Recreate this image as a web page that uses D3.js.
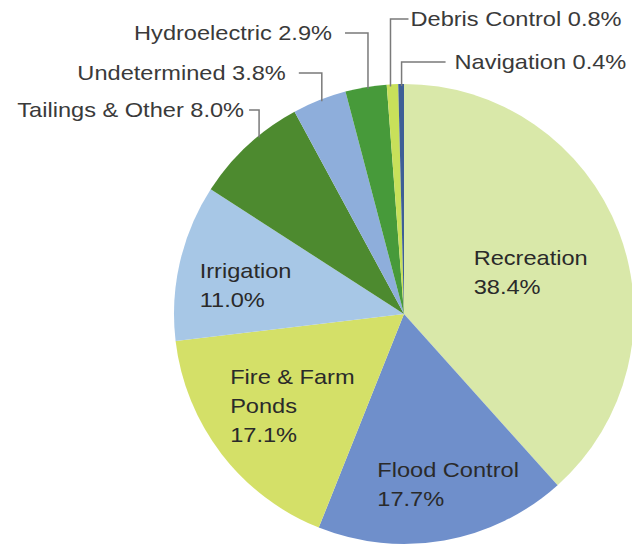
<!DOCTYPE html>
<html>
<head>
<meta charset="utf-8">
<script src="https://cdn.jsdelivr.net/npm/d3@7/dist/d3.min.js"></script>
<style>
  html, body { margin: 0; padding: 0; background: #ffffff; }
  svg { display: block; }
  text { font-family: "Liberation Sans", Arial, Helvetica, sans-serif; }
</style>
</head>
<body>
<svg id="chart" width="632" height="548"></svg>
<script>
// Reservoir purposes, share of total (%), clockwise from 12 o'clock
const categories = [
  "Recreation", "Flood Control", "Fire & Farm Ponds", "Irrigation",
  "Tailings & Other", "Undetermined", "Hydroelectric", "Debris Control", "Navigation"
];
const shares = [38.4, 17.7, 17.1, 11.0, 8.0, 3.8, 2.9, 0.8, 0.4];
const sliceColors = [
  "#d9e8a9", "#6f8fcb", "#d4e068", "#a7c7e6",
  "#4d8a2f", "#8eaedb", "#479a3a", "#c8e05a", "#3e5f96"
];

// Labels drawn inside the big slices (line breaks as shown)
const insideLabels = [
  { name: "Recreation",        lines: ["Recreation"],          along: 0.52, radius: 0.58 },
  { name: "Flood Control",     lines: ["Flood Control"],       along: 0.43, radius: 0.765 },
  { name: "Fire & Farm Ponds", lines: ["Fire & Farm", "Ponds"], along: 0.465, radius: 0.63 },
  { name: "Irrigation",        lines: ["Irrigation"],          along: 0.43, radius: 0.70 }
];

// Labels for the thin slices, joined to the pie by elbow leader lines
const outsideLabels = [
  { name: "Tailings & Other", side: "left",  along: 0.63,  armY: 110, arm: 10, gap: 5 },
  { name: "Undetermined",     side: "left",  along: 0.547, armY: 73,  arm: 23, gap: 13 },
  { name: "Hydroelectric",    side: "left",  along: 0.55,  armY: 33,  arm: 23, gap: 13 },
  { name: "Debris Control",   side: "right", along: 0.33,  armY: 19,  arm: 18, gap: 2 },
  { name: "Navigation",       side: "right", along: 0.58,  armY: 62,  arm: 44, gap: 9 }
];

const cx = 404, cy = 314, R = 230;
const fontSize = 20, stretch = 1.18, lineHeight = 29;

const data = categories.map((name, i) => ({ name, value: shares[i] }));
const color = d3.scaleOrdinal().domain(categories).range(sliceColors);
const pct = v => d3.format(".1f")(v) + "%";

const svg = d3.select("#chart");
const g = svg.append("g").attr("transform", `translate(${cx},${cy})`);

const pie = d3.pie().sort(null).value(d => d.value).startAngle(0).endAngle(2 * Math.PI);
const arcs = pie(data);
const arcByName = new Map(arcs.map(a => [a.data.name, a]));
const arc = d3.arc().innerRadius(0).outerRadius(R);

g.selectAll("path.slice")
  .data(arcs)
  .join("path")
  .attr("class", "slice")
  .attr("d", arc)
  .attr("fill", d => color(d.data.name));

// point at a given angle (0 = up, clockwise) and radius, relative to centre
const polar = (angle, r) => [r * Math.sin(angle), -r * Math.cos(angle)];
const angleIn = (a, t) => a.startAngle + t * (a.endAngle - a.startAngle);

// inside labels: text block centred on a point within the slice
insideLabels.forEach(lab => {
  const a = arcByName.get(lab.name);
  const [px, py] = polar(angleIn(a, lab.along), lab.radius * R);
  const outer = g.append("g").attr("transform", `translate(${px},${py})`);
  const inner = outer.append("g");
  const lines = lab.lines.concat([pct(a.data.value)]);
  inner.selectAll("text")
    .data(lines)
    .join("text")
    .attr("x", 0)
    .attr("y", (d, i) => i * lineHeight)
    .attr("font-size", fontSize)
    .attr("fill", "#2a2a2a")
    .text(d => d);
  const bb = inner.node().getBBox();
  const bx = stretch * (bb.x + bb.width / 2);
  const by = bb.y + bb.height / 2;
  inner.attr("transform", `translate(${-bx},${-by}) scale(${stretch},1)`);
});

// outside labels with elbow leaders
outsideLabels.forEach(lab => {
  const a = arcByName.get(lab.name);
  const [ax] = polar(angleIn(a, lab.along), R);
  const edgeY = -Math.sqrt(R * R - ax * ax) + 2;
  const armY = lab.armY - cy;
  const dir = lab.side === "left" ? -1 : 1;
  const armEnd = ax + dir * lab.arm;

  g.append("path")
    .attr("d", `M${armEnd},${armY}H${ax}V${edgeY}`)
    .attr("fill", "none")
    .attr("stroke", "#7a7a7a")
    .attr("stroke-width", 1.5);

  const tx = armEnd + dir * lab.gap;
  g.append("g")
    .attr("transform", `translate(${tx},${armY}) scale(${stretch},1)`)
    .append("text")
    .attr("text-anchor", lab.side === "left" ? "end" : "start")
    .attr("dy", "0.35em")
    .attr("font-size", fontSize)
    .attr("fill", "#3a3a3a")
    .text(`${lab.name} ${pct(a.data.value)}`);
});
</script>
</body>
</html>
